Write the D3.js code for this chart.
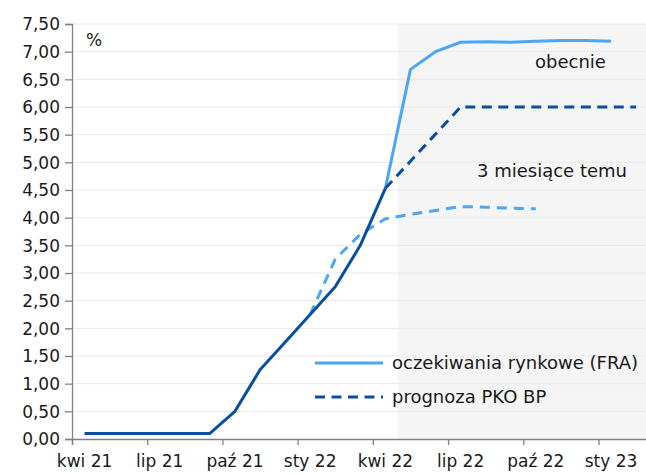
<!DOCTYPE html>
<html>
<head>
<meta charset="utf-8">
<script src="https://cdn.jsdelivr.net/npm/d3@7"></script>
<style>
  html, body { margin: 0; padding: 0; background: #fff; }
  svg { display: block; }
  text { font-family: "DejaVu Sans", sans-serif; fill: #1a1a1a; }
</style>
</head>
<body>
<svg id="chart" width="646" height="474"></svg>
<script>
// Monthly observations, Apr 2021 – Feb 2023
const months = ["kwi 21","maj 21","cze 21","lip 21","sie 21","wrz 21","paź 21","lis 21","gru 21",
  "sty 22","lut 22","mar 22","kwi 22","maj 22","cze 22","lip 22","sie 22","wrz 22","paź 22",
  "lis 22","gru 22","sty 23","lut 23"];
const tickMonths = ["kwi 21","lip 21","paź 21","sty 22","kwi 22","lip 22","paź 22","sty 23"];
const yTicks = [0,0.5,1,1.5,2,2.5,3,3.5,4,4.5,5,5.5,6,6.5,7,7.5];

// realised rate (dark solid)
const history = [0.1,0.1,0.1,0.1,0.1,0.1,0.5,1.25,1.75,2.25,2.75,3.5,4.53,
  null,null,null,null,null,null,null,null,null,null];
// FRA market expectations, current (light solid)
const fraNow = [null,null,null,null,null,null,null,null,null,null,null,null,4.53,
  6.68,7.0,7.17,7.18,7.17,7.19,7.2,7.2,7.19,null];
// FRA market expectations, three months earlier (light dashed)
const fra3m = [null,null,null,null,null,null,null,null,null,2.25,3.25,3.7,3.98,
  4.06,4.13,4.2,4.19,4.17,4.16,null,null,null,null];
// PKO BP forecast (dark dashed)
const pkoForecast = [null,null,null,null,null,null,null,null,null,null,null,null,4.53,
  5.02,5.51,6.0,6.0,6.0,6.0,6.0,6.0,6.0,6.0];

const legendItems = ["oczekiwania rynkowe (FRA)", "prognoza PKO BP"];

const dark = "#0a4f9e";
const light = "#4ba6f3";

const svg = d3.select("#chart");
const mLeft = 72, mTop = 24, mBottom = 439;
const step = 25.07;
const mRight = mLeft + months.length * step;

const x = d3.scaleBand().domain(months).range([mLeft, mRight]);
const xEdge = d3.scaleLinear().domain([0, months.length]).range([mLeft, mRight]);
const y = d3.scaleLinear().domain([0, 7.5]).range([mBottom, mTop]);

// forecast-period shading (from the boundary between kwi 22 and maj 22)
const shadeStart = months.indexOf("maj 22");
svg.append("rect")
  .attr("x", xEdge(shadeStart)).attr("y", y(7.5))
  .attr("width", mRight - xEdge(shadeStart)).attr("height", y(0) - y(7.5))
  .attr("fill", "#f5f5f5");

// horizontal gridlines
svg.append("g").selectAll("line").data(yTicks.slice(1)).join("line")
  .attr("x1", mLeft).attr("x2", mRight)
  .attr("y1", d => y(d)).attr("y2", d => y(d))
  .attr("stroke", "#e9e9e9").attr("stroke-width", 1);

// axes
const fmt = d => d3.format(".2f")(d).replace(".", ",");
const yAxis = svg.append("g").attr("transform", `translate(${mLeft},0)`)
  .call(d3.axisLeft(y).tickValues(yTicks).tickFormat(fmt).tickSize(7).tickPadding(5));
yAxis.selectAll("text").style("font-size", "17px").attr("dy", "0.35em");

const xTicks = svg.append("g").attr("transform", `translate(0,${mBottom})`)
  .call(d3.axisBottom(xEdge).tickValues(d3.range(0, months.length, 3)).tickFormat("").tickSize(6));
const xLabels = svg.append("g").attr("transform", `translate(0,${mBottom})`)
  .call(d3.axisBottom(x).tickValues(tickMonths).tickSize(0).tickPadding(16));
xLabels.select(".domain").remove();
xLabels.selectAll("text").style("font-size", "17px");

svg.selectAll(".domain, .tick line").attr("stroke", "#808080").attr("stroke-width", 1.3);

// series lines
const lineGen = d3.line()
  .defined(d => d != null)
  .x((d, i) => x(months[i]) + x.bandwidth() / 2)
  .y(d => y(d));

const drawLine = (data, color, dash) => svg.append("path")
  .datum(data)
  .attr("fill", "none")
  .attr("stroke", color)
  .attr("stroke-width", 3)
  .attr("stroke-linejoin", "round")
  .attr("stroke-dasharray", dash)
  .attr("d", lineGen);

drawLine(fraNow, light, null);
drawLine(fra3m, light, "10,7");
drawLine(pkoForecast, dark, "10,6.5");
drawLine(history, dark, null);

// legend
const legend = svg.append("g");
legendItems.forEach((label, i) => {
  const ly = 363 + i * 34;
  legend.append("line")
    .attr("x1", 315).attr("x2", 383).attr("y1", ly).attr("y2", ly)
    .attr("stroke", i === 0 ? light : dark).attr("stroke-width", 3)
    .attr("stroke-dasharray", i === 0 ? null : "10,6.5");
  legend.append("text").attr("x", 392).attr("y", ly).attr("dy", "0.35em")
    .style("font-size", "18px").text(label);
});

// annotations
svg.append("text").attr("x", 86).attr("y", 40).attr("dy", "0.35em").style("font-size", "17px").text("%");
svg.append("text").attr("x", 535).attr("y", 62).attr("dy", "0.35em").style("font-size", "18px").text("obecnie");
svg.append("text").attr("x", 477).attr("y", 171).attr("dy", "0.35em").style("font-size", "18px").text("3 miesiące temu");
</script>
</body>
</html>
